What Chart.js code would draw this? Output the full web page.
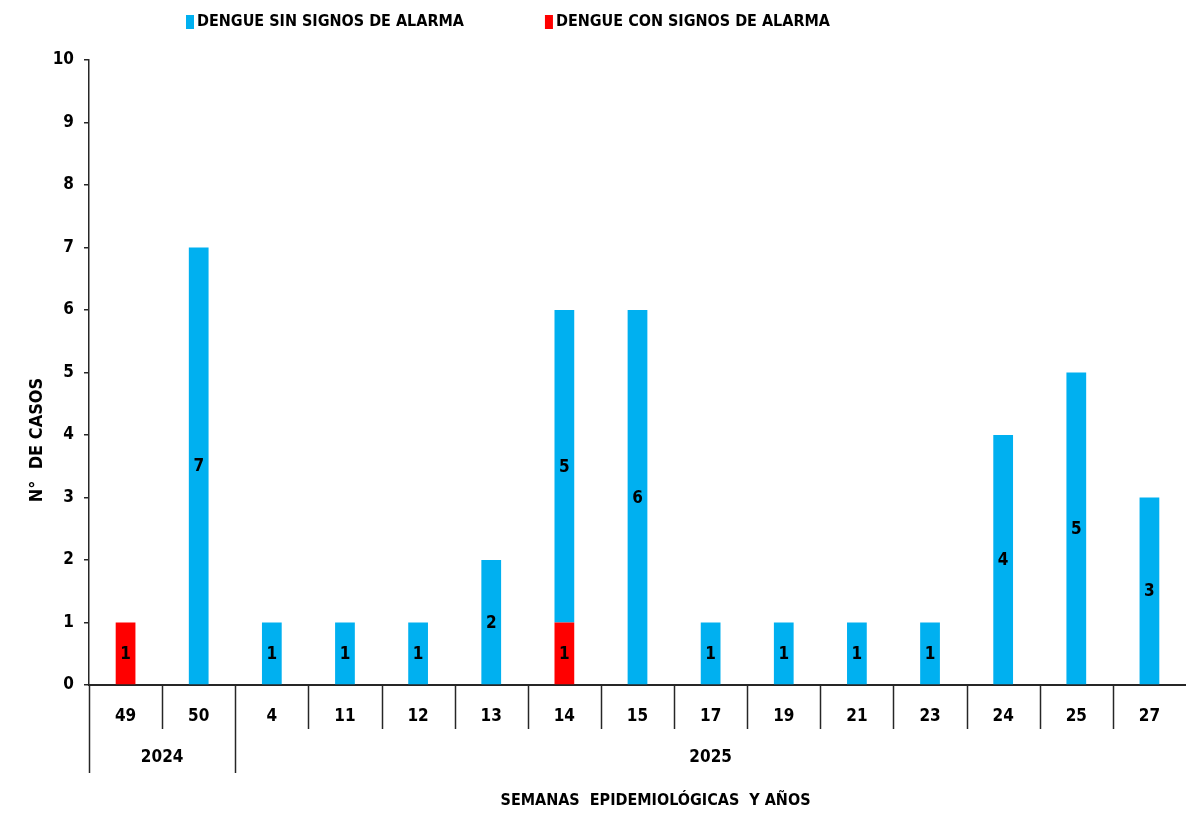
<!DOCTYPE html>
<html>
<head>
<meta charset="utf-8">
<script src="https://cdn.jsdelivr.net/npm/chart.js@4.4.1/dist/chart.umd.min.js"></script>
<style>
  html, body { margin: 0; padding: 0; background: #fff; }
</style>
</head>
<body>
<canvas id="chart" width="1186" height="813"></canvas>
<script>
// semanas epidemiologicas (eje x) y grupos de anio
const weeks = ['49', '50', '4', '11', '12', '13', '14', '15', '17', '19', '21', '23', '24', '25', '27'];
const years = ['2024', '2025'];
const weeksPerYear = [2, 13];

// casos por semana
const sinSignos = [0, 7, 1, 1, 1, 2, 5, 6, 1, 1, 1, 1, 4, 5, 3];
const conSignos = [1, 0, 0, 0, 0, 0, 1, 0, 0, 0, 0, 0, 0, 0, 0];

const yMin = 0;
const yMax = 10;
const yStep = 1;

const labelSin = 'DENGUE SIN SIGNOS DE ALARMA';
const labelCon = 'DENGUE CON SIGNOS DE ALARMA';
const yTitle = 'N°  DE CASOS';
const xTitle = 'SEMANAS  EPIDEMIOLÓGICAS  Y AÑOS';

const FONT = "'Liberation Sans Narrow', 'DejaVu Sans Condensed', 'Arial Narrow', sans-serif";
const INK = '#000';
const AXIS = '#262626';

// values written in the middle of each bar segment
const barValues = {
    id: 'barValues',
    afterDatasetsDraw(chart) {
        const ctx = chart.ctx;
        ctx.save();
        ctx.font = 'bold 17px ' + FONT;
        ctx.fillStyle = INK;
        ctx.textAlign = 'center';
        ctx.textBaseline = 'middle';
        chart.data.datasets.forEach((ds, i) => {
            const meta = chart.getDatasetMeta(i);
            meta.data.forEach((bar, j) => {
                const v = ds.data[j];
                if (!v) return;
                const c = bar.getCenterPoint();
                ctx.fillText(String(v), c.x, c.y + 1);
            });
        });
        ctx.restore();
    }
};

// category separators, year row, axis titles and legend
const frame = {
    id: 'frame',
    afterDraw(chart) {
        const ctx = chart.ctx;
        const xs = chart.scales.x;
        const area = chart.chartArea;
        const step = xs.width / weeks.length;
        const bottom = area.bottom;

        ctx.save();
        ctx.strokeStyle = AXIS;
        ctx.lineWidth = 1.5;

        // which boundaries split the years
        const yearEdges = [0];
        weeksPerYear.forEach(n => yearEdges.push(yearEdges[yearEdges.length - 1] + n));

        for (let i = 0; i < weeks.length; i++) {
            const px = Math.round(xs.getPixelForValue(i) - step / 2) + 0.5;
            const long = yearEdges.includes(i);
            ctx.beginPath();
            ctx.moveTo(px, bottom);
            ctx.lineTo(px, bottom + (long ? 88 : 44));
            ctx.stroke();
        }

        ctx.fillStyle = INK;
        ctx.textAlign = 'center';
        ctx.textBaseline = 'middle';
        ctx.font = 'bold 17px ' + FONT;
        years.forEach((yr, k) => {
            const a = xs.getPixelForValue(yearEdges[k]) - step / 2;
            const b = xs.getPixelForValue(yearEdges[k + 1] - 1) + step / 2;
            ctx.fillText(yr, (a + b) / 2, bottom + 73);
        });

        // x title
        ctx.font = 'bold 16px ' + FONT;
        ctx.fillText(xTitle, (area.left + area.right) / 2 + 18, bottom + 116);

        // y title
        ctx.font = 'bold 18px ' + FONT;
        ctx.save();
        ctx.translate(37, 440);
        ctx.rotate(-Math.PI / 2);
        ctx.fillText(yTitle, 0, 0);
        ctx.restore();

        // legend, blue entry first
        ctx.font = 'bold 16px ' + FONT;
        ctx.textAlign = 'left';
        let lx = 186;
        const ly = 22;
        [1, 0].forEach(i => {
            const ds = chart.data.datasets[i];
            ctx.fillStyle = ds.backgroundColor;
            ctx.fillRect(lx, ly - 7, 8, 14);
            ctx.fillStyle = INK;
            ctx.fillText(ds.label, lx + 11, ly);
            lx += 11 + ctx.measureText(ds.label).width + 81;
        });

        ctx.restore();
    }
};

new Chart(document.getElementById('chart'), {
    type: 'bar',
    data: {
        labels: weeks,
        datasets: [
            {
                label: labelCon,
                data: conSignos,
                backgroundColor: '#ff0000',
                categoryPercentage: 1,
                barPercentage: 0.27,
            },
            {
                label: labelSin,
                data: sinSignos,
                backgroundColor: '#00b0f0',
                categoryPercentage: 1,
                barPercentage: 0.27,
            },
        ],
    },
    options: {
        responsive: false,
        animation: false,
        layout: { padding: { top: 60, right: 0, bottom: 0, left: 0 } },
        scales: {
            x: {
                stacked: true,
                grid: { display: false },
                border: { display: true, color: AXIS, width: 2 },
                ticks: {
                    color: INK,
                    font: { family: FONT, size: 17, weight: 'bold' },
                    padding: 13,
                    maxRotation: 0,
                },
                afterFit: s => { s.height = 128; },
            },
            y: {
                stacked: true,
                min: yMin,
                max: yMax,
                grid: {
                    drawOnChartArea: false,
                    drawTicks: true,
                    tickLength: 5,
                    color: AXIS,
                    lineWidth: 1.5,
                },
                border: { display: true, color: AXIS, width: 1.5 },
                ticks: {
                    stepSize: yStep,
                    color: INK,
                    font: { family: FONT, size: 17, weight: 'bold' },
                    padding: 10,
                },
                afterFit: s => { s.width = 89; },
            },
        },
        plugins: {
            legend: { display: false },
            tooltip: { enabled: false },
        },
    },
    plugins: [barValues, frame],
});
</script>
</body>
</html>
